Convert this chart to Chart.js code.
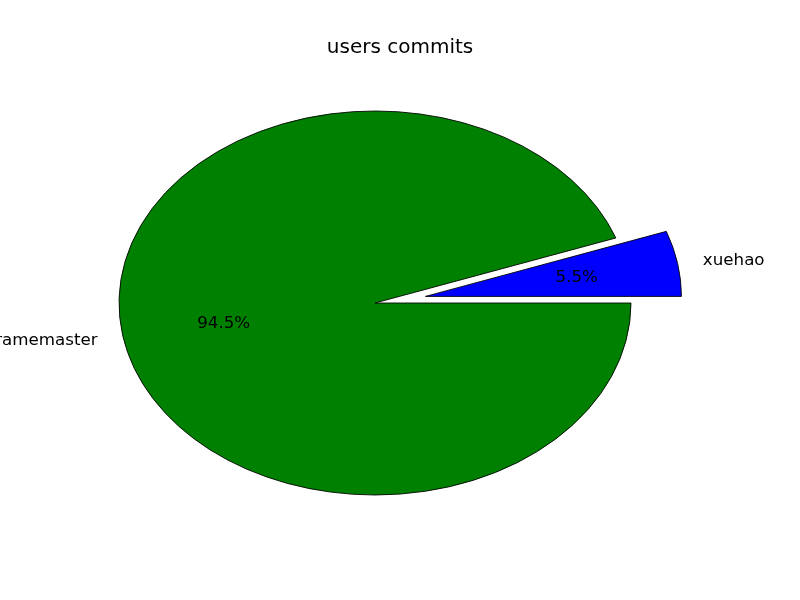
<!DOCTYPE html>
<html>
<head>
<meta charset="utf-8">
<script src="https://cdn.jsdelivr.net/npm/chart.js@4"></script>
<style>
html,body{margin:0;padding:0;background:#fff;}
#wrap{width:800px;height:600px;position:relative;}
</style>
</head>
<body>
<div id="wrap"><canvas id="c" width="800" height="600"></canvas></div>
<script>
// ---- data ----
const titleText = 'users commits';
const categories = ['xuehao', 'framemaster'];
const commits = [5.5, 94.5];
const explode = [0.2, 0];
const sliceColors = ['#0000ff', '#008000'];

// ---- layout constants ----
const RADIUS = 256;      // circle radius before vertical squash
const SQUASH = 0.75;     // ellipse aspect (matplotlib non-equal axes)
const FONT = '"DejaVu Sans", "Liberation Sans", sans-serif';

const total = commits.reduce((a, b) => a + b, 0);
// matplotlib starts at 3 o'clock and goes counter-clockwise; Chart.js goes clockwise,
// so start the first slice so that it ends at 3 o'clock.
const rotationDeg = 90 - 360 * commits[0] / total;

function centerY(chart) {
  return (chart.chartArea.top + chart.chartArea.bottom) / 2;
}

const piePlugin = {
  id: 'mplPie',
  afterDatasetsUpdate(chart) {
    const meta = chart.getDatasetMeta(0);
    meta.data.forEach((arc, i) => {
      const mid = (arc.startAngle + arc.endAngle) / 2;
      const d = explode[i] * arc.outerRadius;
      arc.x += Math.cos(mid) * d;
      arc.y += Math.sin(mid) * d;
    });
  },
  beforeDatasetsDraw(chart) {
    const ctx = chart.ctx;
    const cy = centerY(chart);
    ctx.save();
    ctx.translate(0, cy);
    ctx.scale(1, SQUASH);
    ctx.translate(0, -cy);
  },
  afterDatasetsDraw(chart) {
    chart.ctx.restore();
  },
  afterDraw(chart) {
    const ctx = chart.ctx;
    const cy = centerY(chart);
    ctx.save();
    ctx.fillStyle = '#000';
    // title
    ctx.font = '20px ' + FONT;
    ctx.textAlign = 'center';
    ctx.textBaseline = 'middle';
    ctx.fillText(titleText, 400, 48);
    // labels
    ctx.font = '16.7px ' + FONT;
    const meta = chart.getDatasetMeta(0);
    meta.data.forEach((arc, i) => {
      const mid = (arc.startAngle + arc.endAngle) / 2;
      const r = arc.outerRadius;
      const c = Math.cos(mid), s = Math.sin(mid);
      const ly = arc.y + 1.1 * r * s;
      const lx = arc.x + 1.1 * r * c;
      ctx.textAlign = c > 0 ? 'left' : 'right';
      ctx.textBaseline = 'middle';
      ctx.fillText(categories[i], lx, cy + (ly - cy) * SQUASH + 1);
      const px = arc.x + 0.6 * r * c;
      const py = arc.y + 0.6 * r * s;
      ctx.textAlign = 'center';
      ctx.fillText((commits[i] / total * 100).toFixed(1) + '%', px, cy + (py - cy) * SQUASH + 1);
    });
    ctx.restore();
  }
};

new Chart(document.getElementById('c'), {
  type: 'pie',
  data: {
    labels: categories,
    datasets: [{
      data: commits,
      backgroundColor: sliceColors,
      borderColor: '#000000',
      borderWidth: 1,
      borderAlign: 'center'
    }]
  },
  options: {
    responsive: false,
    animation: false,
    events: [],
    rotation: rotationDeg,
    radius: RADIUS,
    layout: { padding: { left: 0, right: 50, top: 6, bottom: 0 } },
    plugins: {
      legend: { display: false },
      title: { display: false },
      tooltip: { enabled: false }
    }
  },
  plugins: [piePlugin]
});
</script>
</body>
</html>
